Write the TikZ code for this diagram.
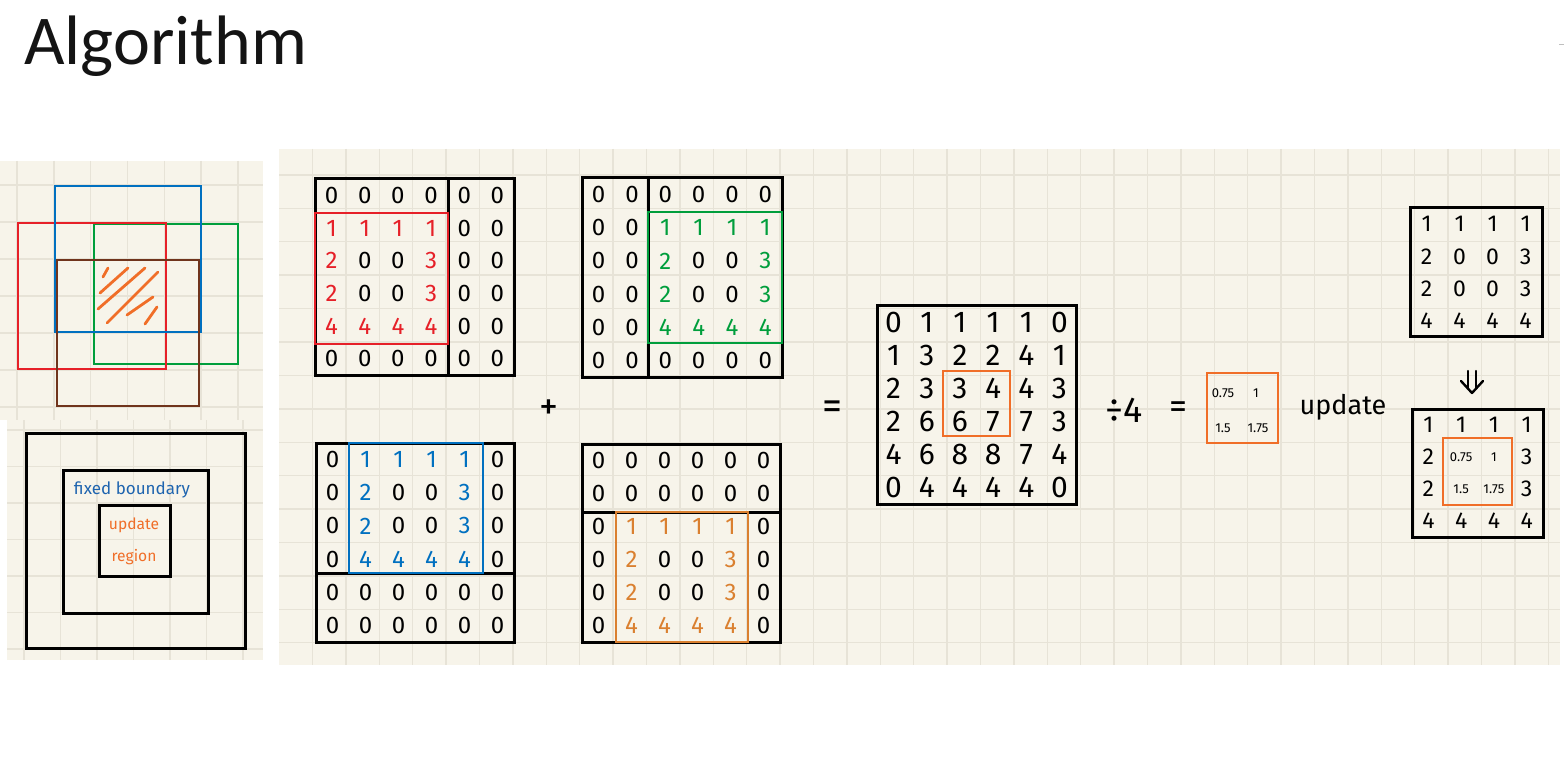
\documentclass[tikz,border=0pt]{standalone}
\usepackage{fontspec}
\setmainfont{Carlito}
\newfontfamily\handfont{Fira Sans}
\definecolor{cream}{RGB}{247,244,234}
\definecolor{gridc}{RGB}{231,227,215}
\definecolor{hred}{RGB}{230,32,40}
\definecolor{hblue}{RGB}{0,112,192}
\definecolor{hgreen}{RGB}{0,158,60}
\definecolor{hbrown}{RGB}{112,52,28}
\definecolor{horange}{RGB}{240,110,40}
\definecolor{horangeb}{RGB}{218,128,48}
\definecolor{tblue}{RGB}{30,100,175}
\definecolor{titlec}{RGB}{20,20,20}
\tikzset{
  panel/.style={fill=cream, draw=none},
  gridline/.style={draw=gridc, line width=0.7pt},
  frame/.style={draw=black, line width=1.5pt},
  cbox/.style={line width=1.4pt},
  num/.style={font=\handfont\fontsize{12}{12}\selectfont, inner sep=0pt},
  bignum/.style={font=\handfont\fontsize{15}{15}\selectfont, inner sep=0pt},
  rnum/.style={font=\handfont\fontsize{11.5}{11.5}\selectfont, inner sep=0pt},
  decnum/.style={font=\handfont\fontsize{6.5}{6.5}\selectfont, inner sep=0pt},
  word/.style={font=\handfont, inner sep=0pt},
  hatch/.style={draw=horange, line width=1.4pt, line cap=round},
}
\newcommand\decsz{\fontsize{6.5}{6.5}\selectfont}
% name, x0, y0, x1, y1, n, style, colour of non-zero entries, rows
\newcommand\drawmat[9]{%
  \foreach \row [count=\r] in {#9} {
    \foreach \v [count=\c] in \row {
      \ifnum\v=0 \def\cc{black}\else\def\cc{#8}\fi
      \node[#7, text=\cc] (#1-\r-\c) at ({#2+(\c-0.5)*(#4-#2)/#6},{#3+(\r-0.5)*(#5-#3)/#6}) {\v};
    }
  }
}
\newcommand\drawplain[8]{%
  \foreach \row [count=\r] in {#8} {
    \foreach \v [count=\c] in \row {
      \node[#7] (#1-\r-\c) at ({#2+(\c-0.5)*(#4-#2)/#6},{#3+(\r-0.5)*(#5-#3)/#6}) {\v};
    }
  }
}
\begin{document}
\begin{tikzpicture}[x=0.5pt,y=-0.5pt]
\useasboundingbox (0,0) rectangle (1564,770);
\fill[white] (0,0) rectangle (1564,770);

% title
\node[anchor=base west, inner sep=0pt, text=titlec, font=\fontsize{35}{35}\selectfont] (title) at (24,65) {Algorithm};
\draw[gray!50, line width=0.5pt] (1559,45) -- (1564,45);

% ---------- left top panel ----------
\begin{scope}
  \clip (0,161) rectangle (263,420);
  \fill[panel] (0,161) rectangle (263,420);
  \foreach \x in {17,53.8,...,263} \draw[gridline] (\x,161) -- (\x,420);
  \foreach \y in {185,222,...,420} \draw[gridline] (0,\y) -- (263,\y);
\end{scope}
\draw[hgreen, cbox] (94,224) rectangle (238,364);
\draw[hred, cbox] (18,223) rectangle (166,369);
\draw[hblue, cbox] (55,186) rectangle (201,332);
\draw[hbrown, cbox] (57,260) rectangle (199,406);
\draw[hatch] (103,277) -- (108,268);
\draw[hatch] (100,293) -- (128,268);
\draw[hatch] (98,309) -- (145,268);
\draw[hatch] (107,323) -- (158,272);
\draw[hatch] (127,315) -- (153,297);
\draw[hatch] (145,324) -- (157,307);

% ---------- left bottom panel ----------
\begin{scope}
  \clip (7,420) rectangle (263,660);
  \fill[panel] (7,420) rectangle (263,660);
  \foreach \x in {24,60.5,...,263} \draw[gridline] (\x,420) -- (\x,660);
  \foreach \y in {430,466.5,...,660} \draw[gridline] (7,\y) -- (263,\y);
\end{scope}
\draw[frame] (26,433) rectangle (245,648);
\draw[frame] (63,470) rectangle (208,613);
\draw[frame] (99,505) rectangle (170,576);
\node[word, text=tblue, font=\handfont\fontsize{8.5}{8.5}\selectfont] (fixed) at (132,490) {fixed boundary};
\node[word, text=horange, font=\handfont\fontsize{7.8}{7.8}\selectfont] (upd1) at (134,525) {update};
\node[word, text=horange, font=\handfont\fontsize{7.8}{7.8}\selectfont] (reg1) at (134,557) {region};

% ---------- main panel ----------
\begin{scope}
  \clip (279,149) rectangle (1560,665);
  \fill[panel] (279,149) rectangle (1560,665);
  \foreach \x in {312.4,345.8,...,1560} \draw[gridline] (\x,149) -- (\x,665);
  \foreach \y in {175,208.4,...,665} \draw[gridline] (279,\y) -- (1560,\y);
\end{scope}

% matrix 1 (red)
\draw[frame] (315,179) rectangle (514,375);
\draw[frame] (448,179) -- (448,375);
\draw[hred, cbox] (315,213) rectangle (448,344);
\drawmat{ma}{315}{179}{514}{375}{6}{num}{hred}{{0,0,0,0,0,0},{1,1,1,1,0,0},{2,0,0,3,0,0},{2,0,0,3,0,0},{4,4,4,4,0,0},{0,0,0,0,0,0}}

% matrix 2 (green)
\draw[frame] (582,178) rectangle (782,377);
\draw[frame] (648,178) -- (648,377);
\draw[hgreen, cbox] (648,212) rectangle (782,343);
\drawmat{mb}{582}{178}{782}{377}{6}{num}{hgreen}{{0,0,0,0,0,0},{0,0,1,1,1,1},{0,0,2,0,0,3},{0,0,2,0,0,3},{0,0,4,4,4,4},{0,0,0,0,0,0}}

% matrix 3 (blue)
\draw[frame] (316,443) rectangle (514,642);
\draw[frame] (316,573) -- (514,573);
\draw[hblue, cbox] (349,443) rectangle (483,573);
\drawmat{mc}{316}{443}{514}{642}{6}{num}{hblue}{{0,1,1,1,1,0},{0,2,0,0,3,0},{0,2,0,0,3,0},{0,4,4,4,4,0},{0,0,0,0,0,0},{0,0,0,0,0,0}}

% matrix 4 (orange)
\draw[frame] (582,444) rectangle (780,642);
\draw[frame] (582,512) -- (780,512);
\draw[horangeb, cbox] (616,512) rectangle (748,642);
\drawmat{md}{582}{444}{780}{642}{6}{num}{horangeb}{{0,0,0,0,0,0},{0,0,0,0,0,0},{0,1,1,1,1,0},{0,2,0,0,3,0},{0,2,0,0,3,0},{0,4,4,4,4,0}}

\node[word, font=\handfont\fontsize{19}{19}\selectfont] (plus) at (549,410) {+};
\node[word, font=\handfont\fontsize{20}{20}\selectfont] (eq1) at (832,410) {=};

% sum matrix
\draw[frame] (877,306) rectangle (1076,504);
\draw[horange, cbox] (943,371) rectangle (1010,436);
\drawplain{ms}{877}{306}{1076}{504}{6}{bignum}{{0,1,1,1,1,0},{1,3,2,2,4,1},{2,3,3,4,4,3},{2,6,6,7,7,3},{4,6,8,8,7,4},{0,4,4,4,4,0}}

\node[word, font=\handfont\fontsize{18}{18}\selectfont] (div) at (1124,410) {÷4};
\node[word, font=\handfont\fontsize{18}{18}\selectfont] (eq2) at (1178,410) {=};

% averaged block
\draw[horange, cbox] (1207,373) rectangle (1278,443);
\node[decnum] (q11) at (1223,393) {0.75};
\node[decnum] (q12) at (1256,393) {1};
\node[decnum] (q21) at (1223,428) {1.5};
\node[decnum] (q22) at (1258,428) {1.75};

\node[word, font=\handfont\fontsize{13.5}{13.5}\selectfont] (upd2) at (1343,407) {update};

% right matrices
\draw[frame] (1410,208) rectangle (1542,337);
\drawplain{mr}{1410}{208}{1542}{337}{4}{rnum}{{1,1,1,1},{2,0,0,3},{2,0,0,3},{4,4,4,4}}

\coordinate (arrtop) at (1472,371);
\draw[line width=1.2pt, line cap=round] ([xshift=-2pt]arrtop) -- ++(0,17);
\draw[line width=1.2pt, line cap=round] ([xshift=2pt]arrtop) -- ++(0,17);
\draw[line width=1.2pt, line cap=round, line join=round] ([xshift=-5.5pt,yshift=-5pt]arrtop) -- ([yshift=-11pt]arrtop) -- ([xshift=5.5pt,yshift=-5pt]arrtop);

\draw[frame] (1412,409) rectangle (1543,537);
\draw[horange, cbox] (1443,438) rectangle (1512,505);
\drawplain{mu}{1412}{409}{1543}{537}{4}{rnum}{{1,1,1,1},{2,{\decsz 0.75},{\decsz 1},3},{2,{\decsz 1.5},{\decsz 1.75},3},{4,4,4,4}}
\end{tikzpicture}
\end{document}
